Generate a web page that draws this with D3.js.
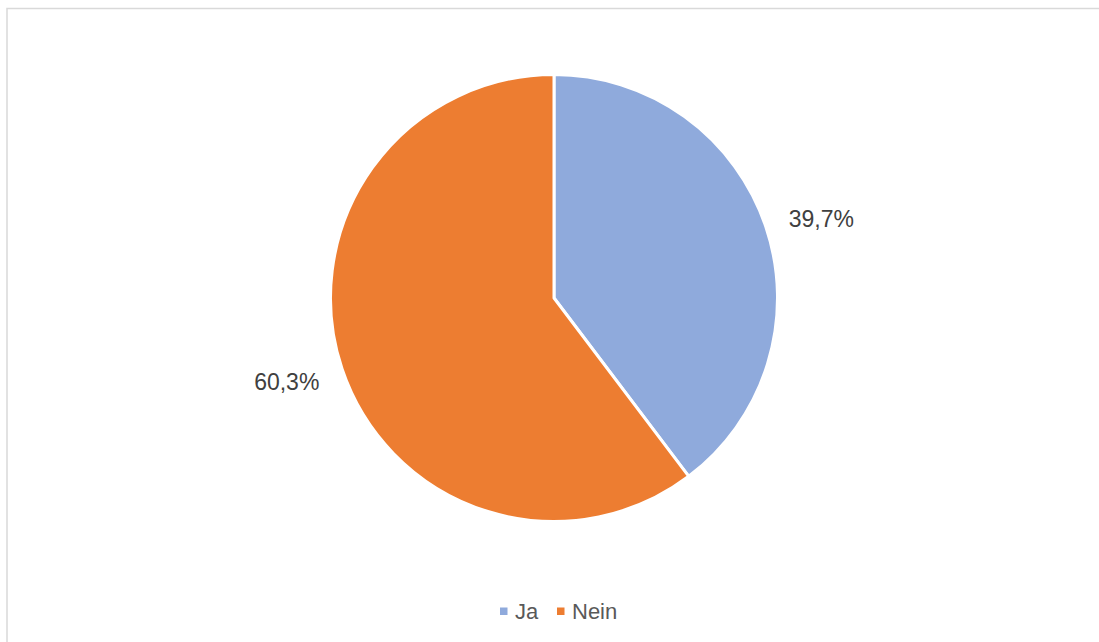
<!DOCTYPE html>
<html>
<head>
<meta charset="utf-8">
<script src="https://cdn.jsdelivr.net/npm/d3@7"></script>
<style>
  body { margin: 0; background: #fff; }
  svg { display: block; font-family: "Liberation Sans", Arial, sans-serif; }
</style>
</head>
<body>
<svg id="chart"></svg>
<script>
const categories = ["Ja", "Nein"];
const values = [39.7, 60.3];
const colors = ["#8faadc", "#ed7d31"];

const width = 1099, height = 642;
const svg = d3.select("#chart").attr("width", width).attr("height", height);

// chart frame (only top + left edges visible in the crop)
svg.append("rect")
  .attr("x", 7).attr("y", 8.5)
  .attr("width", width + 10).attr("height", height + 10)
  .attr("fill", "none")
  .attr("stroke", "#d9d9d9")
  .attr("stroke-width", 1.5);

const cx = 554, cy = 298, r = 223.5;
const g = svg.append("g").attr("transform", `translate(${cx},${cy})`);

const data = categories.map((c, i) => ({ name: c, value: values[i], color: colors[i] }));
const pie = d3.pie().value(d => d.value).sort(null);
const arc = d3.arc().innerRadius(0).outerRadius(r);
// anchor point just outside the rim, label box corner sits near it (like Excel's outside-end)
const labelArc = d3.arc().innerRadius(r + 24).outerRadius(r + 24);

const arcs = pie(data);

g.selectAll("path.slice")
  .data(arcs)
  .join("path")
  .attr("class", "slice")
  .attr("d", arc)
  .attr("fill", d => d.data.color)
  .attr("stroke", "#fff")
  .attr("stroke-width", 3)
  .attr("stroke-linejoin", "round");

g.selectAll("text.lbl")
  .data(arcs)
  .join("text")
  .attr("class", "lbl")
  .attr("transform", d => `translate(${labelArc.centroid(d)})`)
  .attr("text-anchor", d => labelArc.centroid(d)[0] > 0 ? "start" : "end")
  .attr("dy", d => labelArc.centroid(d)[1] > 0 ? "0.58em" : "0.32em")
  .style("font-size", "23px")
  .style("fill", "#404040")
  .text(d => d3.format(".1f")(d.data.value).replace(".", ",") + "%");

// legend
const legend = svg.append("g").attr("transform", "translate(500,611)");
const offsets = [0, 57];
categories.forEach((c, i) => {
  const item = legend.append("g").attr("transform", `translate(${offsets[i]},0)`);
  item.append("rect")
    .attr("x", 0).attr("y", -3.5)
    .attr("width", 7.5).attr("height", 7.5)
    .attr("fill", colors[i]);
  item.append("text")
    .attr("x", 15).attr("dy", "0.36em")
    .style("font-size", "22px")
    .style("fill", "#595959")
    .text(c);
});
</script>
</body>
</html>
